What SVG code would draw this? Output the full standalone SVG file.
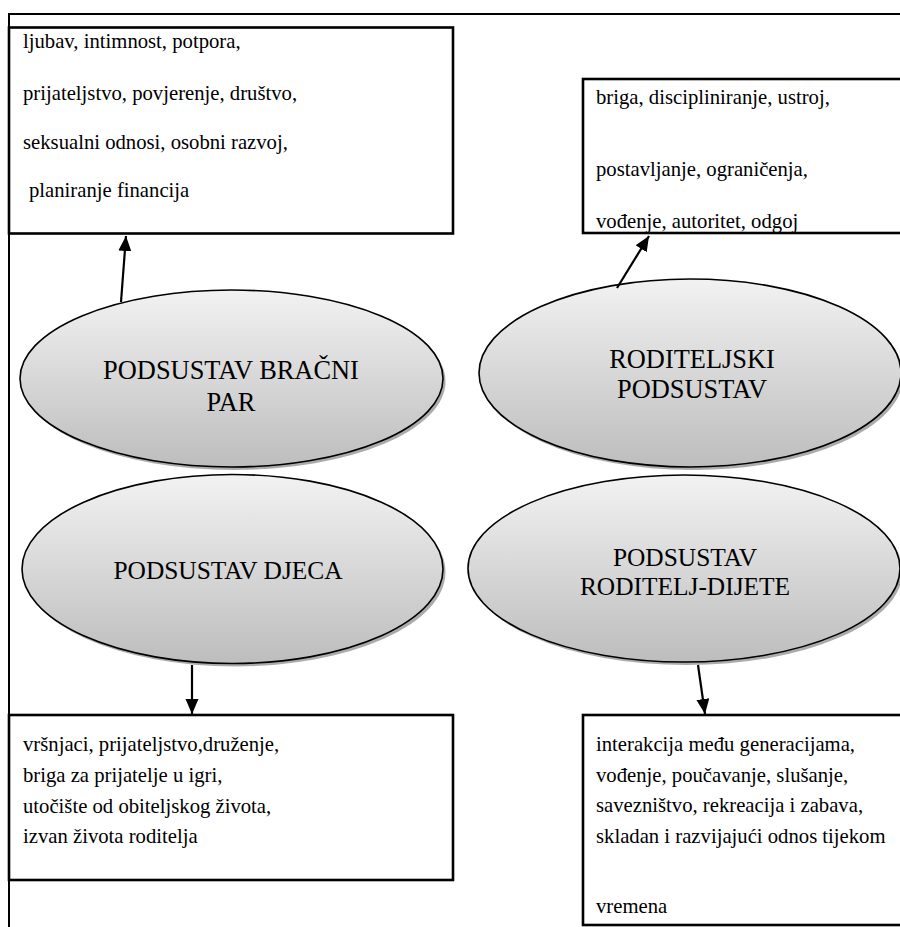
<svg xmlns="http://www.w3.org/2000/svg" width="900" height="927" viewBox="0 0 900 927">
<style>
.frame{fill:none;stroke:#000;stroke-width:2}
.box{fill:#fff;stroke:#000;stroke-width:2.6}
.ell{stroke:#000;stroke-width:1.6;fill:url(#g)}
.shadow{fill:#666;opacity:0.55}
.conn line{stroke:#000;stroke-width:2.2}
</style>
<defs>
<linearGradient id="g" x1="0" y1="0" x2="0" y2="1">
<stop offset="0" stop-color="#f2f2f2"/>
<stop offset="1" stop-color="#bdbdbd"/>
</linearGradient>
<marker id="ah" markerUnits="userSpaceOnUse" markerWidth="16" markerHeight="14" refX="15" refY="6.5" orient="auto">
<path d="M0,0 L15,6.5 L0,13 z" fill="#000"/>
</marker>
</defs>
<rect width="900" height="927" fill="#fff"/>
<g id="frame">
<path class="frame" d="M9,927 V14 H901"/>
</g>
<g font-family="Liberation Serif, Times New Roman, serif" fill="#000">
<g font-size="20.7">
<g id="box-bracni">
<rect class="box" x="9" y="27.5" width="444" height="206"/>
<text x="23" y="48">ljubav, intimnost, potpora,</text>
<text x="23" y="100">prijateljstvo, povjerenje, društvo,</text>
<text x="23" y="149">seksualni odnosi, osobni razvoj,</text>
<text x="29" y="197">planiranje financija</text>
</g>
<g id="box-roditeljski">
<rect class="box" x="583" y="79" width="330" height="154"/>
<text x="596" y="104">briga, discipliniranje, ustroj,</text>
<text x="596" y="176">postavljanje, ograničenja,</text>
<text x="596" y="228">vođenje, autoritet, odgoj</text>
</g>
<g id="box-djeca">
<rect class="box" x="9" y="715" width="444" height="165"/>
<text x="23" y="751">vršnjaci, prijateljstvo,druženje,</text>
<text x="23" y="782">briga za prijatelje u igri,</text>
<text x="23" y="813">utočište od obiteljskog života,</text>
<text x="23" y="843">izvan života roditelja</text>
</g>
<g id="box-roditelj-dijete">
<rect class="box" x="583" y="715" width="330" height="210"/>
<text x="596" y="751">interakcija među generacijama,</text>
<text x="596" y="782">vođenje, poučavanje, slušanje,</text>
<text x="596" y="812">savezništvo, rekreacija i zabava,</text>
<text x="596" y="843">skladan i razvijajući odnos tijekom</text>
<text x="596" y="913">vremena</text>
</g>
</g>
<g text-anchor="middle">
<g id="ell-bracni" font-size="26.4">
<ellipse class="shadow" cx="234" cy="381.5" rx="211.5" ry="88.5"/>
<ellipse class="ell" cx="231.5" cy="378.5" rx="211.5" ry="88.5"/>
<text x="231" y="379">PODSUSTAV BRAČNI</text>
<text x="231" y="411">PAR</text>
</g>
<g id="ell-roditeljski" font-size="26.4">
<ellipse class="shadow" cx="692.5" cy="376" rx="211" ry="94"/>
<ellipse class="ell" cx="690" cy="373" rx="211" ry="94"/>
<text x="692" y="368">RODITELJSKI</text>
<text x="692" y="398">PODSUSTAV</text>
</g>
<g id="ell-djeca" font-size="25.4">
<ellipse class="shadow" cx="235" cy="572" rx="210.5" ry="94.5"/>
<ellipse class="ell" cx="232.5" cy="569" rx="210.5" ry="94.5"/>
<text x="228" y="579">PODSUSTAV DJECA</text>
</g>
<g id="ell-roditelj-dijete" font-size="25.4">
<ellipse class="shadow" cx="686.5" cy="571.5" rx="216" ry="93.5"/>
<ellipse class="ell" cx="684" cy="568.5" rx="216" ry="93.5"/>
<text x="685" y="566">PODSUSTAV</text>
<text x="685" y="595">RODITELJ-DIJETE</text>
</g>
</g>
</g>
<g id="connectors" class="conn">
<line x1="121" y1="302" x2="126" y2="236" marker-end="url(#ah)"/>
<line x1="617" y1="288" x2="649" y2="236" marker-end="url(#ah)"/>
<line x1="192" y1="665" x2="192" y2="714" marker-end="url(#ah)"/>
<line x1="698" y1="665" x2="705" y2="714" marker-end="url(#ah)"/>
</g>
</svg>
